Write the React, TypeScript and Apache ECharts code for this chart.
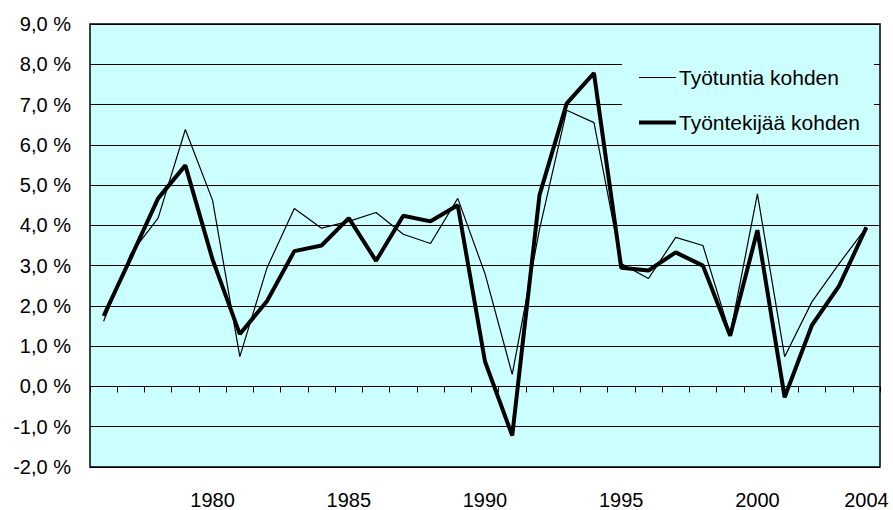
import React, { useEffect, useRef } from "react";
import * as echarts from "echarts";

const years: string[] = [
  "1976", "1977", "1978", "1979", "1980", "1981", "1982", "1983", "1984", "1985",
  "1986", "1987", "1988", "1989", "1990", "1991", "1992", "1993", "1994", "1995",
  "1996", "1997", "1998", "1999", "2000", "2001", "2002", "2003", "2004",
];

const shownYearLabels: string[] = ["1980", "1985", "1990", "1995", "2000", "2004"];

// Työtuntia kohden (per hour worked), %
const perHour: number[] = [
  1.62, 3.3, 4.18, 6.38, 4.62, 0.74, 2.95, 4.42, 3.93, 4.1,
  4.32, 3.78, 3.55, 4.67, 2.8, 0.3, 3.9, 6.86, 6.55, 3.05,
  2.68, 3.7, 3.5, 1.3, 4.78, 0.74, 2.1, 3.05, 3.95,
];

// Työntekijää kohden (per employee), %
const perEmployee: number[] = [
  1.75, 3.2, 4.67, 5.49, 3.15, 1.3, 2.12, 3.36, 3.5, 4.18,
  3.12, 4.24, 4.1, 4.5, 0.62, -1.22, 4.75, 7.03, 7.78, 2.95,
  2.88, 3.33, 3.0, 1.26, 3.88, -0.27, 1.52, 2.5, 3.95,
];

const seriesNames: string[] = ["Työtuntia kohden", "Työntekijää kohden"];

const FONT = 'Arial, "Liberation Sans", sans-serif';

// legend icons: an invisible sliver spanning the full icon height keeps the box 37x20
const thinIcon = "path://M0,0h0.01v20h-0.01z M0,9.4h37v1.2h-37z";
const thickIcon = "path://M0,0h0.01v20h-0.01z M0,8h37v4h-37z";

export default function App() {
  const ref = useRef<HTMLDivElement>(null);

  useEffect(() => {
    if (!ref.current) return;
    const chart = echarts.init(ref.current, undefined, { renderer: "svg" });
    chart.setOption({
      animation: false,
      backgroundColor: "#ffffff",
      textStyle: { fontFamily: FONT },
      grid: {
        left: 90,
        right: 13,
        top: 24,
        bottom: 41,
        show: true,
        backgroundColor: "#ccffff",
        borderColor: "#000000",
        borderWidth: 1.5,
        containLabel: false,
      },
      legend: {
        orient: "vertical",
        left: 622,
        top: 50,
        padding: [17, 14, 10, 17],
        backgroundColor: "#ccffff",
        itemWidth: 37,
        itemHeight: 20,
        itemGap: 24,
        selectedMode: false,
        textStyle: { fontSize: 21, color: "#000000", fontFamily: FONT, padding: [0, 0, 0, -2] },
        data: [
          { name: seriesNames[0], icon: thinIcon, itemStyle: { color: "#000000", borderWidth: 0 } },
          { name: seriesNames[1], icon: thickIcon, itemStyle: { color: "#000000", borderWidth: 0 } },
        ],
      },
      xAxis: [
        {
          type: "category",
          data: years,
          position: "bottom",
          boundaryGap: true,
          axisLine: { show: false, onZero: false },
          axisTick: { show: false },
          splitLine: { show: false },
          axisLabel: {
            show: true,
            margin: 23,
            fontSize: 20,
            color: "#000000",
            fontFamily: FONT,
            interval: (_i: number, v: string) => shownYearLabels.indexOf(v) >= 0,
          },
        },
        {
          type: "category",
          data: years,
          position: "bottom",
          boundaryGap: true,
          axisLine: { show: true, onZero: true, lineStyle: { color: "#000000", width: 1 } },
          axisTick: { show: true, interval: 0, length: 6, lineStyle: { color: "#000000", width: 1 } },
          axisLabel: { show: false },
          splitLine: { show: false },
        },
      ],
      yAxis: {
        type: "value",
        min: -2,
        max: 9,
        interval: 1,
        axisLine: { show: false },
        axisTick: { show: true, inside: true, length: 5, lineStyle: { color: "#000000" } },
        splitLine: { show: true, lineStyle: { color: "#000000", width: 1 } },
        axisLabel: {
          margin: 19,
          fontSize: 20,
          color: "#000000",
          fontFamily: FONT,
          formatter: (v: number) => v.toFixed(1).replace(".", ",") + " %",
        },
      },
      series: [
        {
          name: seriesNames[0],
          type: "line",
          xAxisIndex: 0,
          data: perHour,
          symbol: "none",
          lineStyle: { color: "#000000", width: 1.2 },
          itemStyle: { color: "#000000" },
          z: 3,
        },
        {
          name: seriesNames[1],
          type: "line",
          xAxisIndex: 0,
          data: perEmployee,
          symbol: "none",
          lineStyle: { color: "#000000", width: 4 },
          itemStyle: { color: "#000000" },
          z: 4,
        },
      ],
    });
    return () => chart.dispose();
  }, []);

  return (
    <div
      ref={ref}
      style={{ position: "fixed", left: 0, top: 0, width: 893, height: 510 }}
    />
  );
}
